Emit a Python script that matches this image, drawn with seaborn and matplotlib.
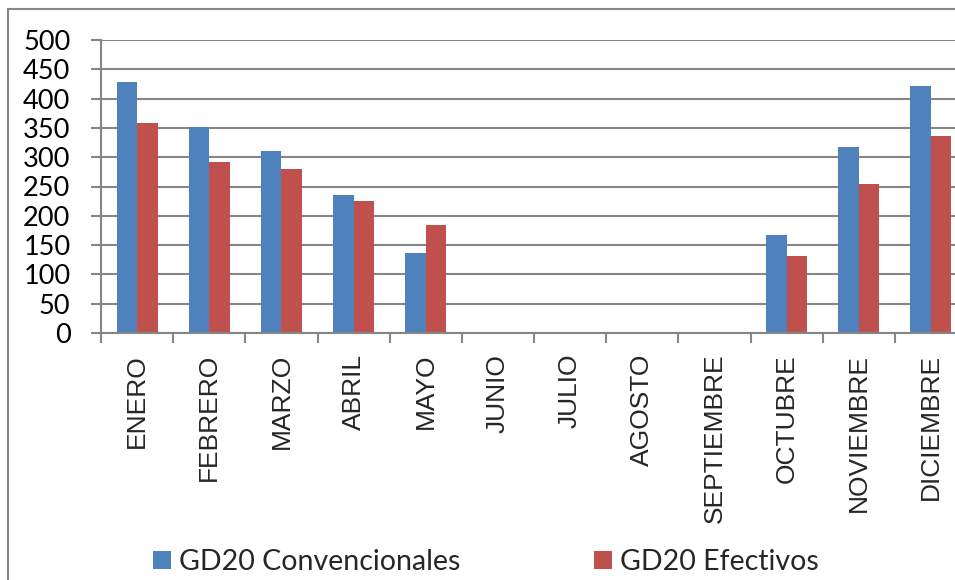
import matplotlib
matplotlib.use("Agg")
import matplotlib.pyplot as plt
import seaborn as sns
import pandas as pd
from matplotlib.patches import Patch, Rectangle

meses = ["ENERO", "FEBRERO", "MARZO", "ABRIL", "MAYO", "JUNIO", "JULIO",
         "AGOSTO", "SEPTIEMBRE", "OCTUBRE", "NOVIEMBRE", "DICIEMBRE"]
serie_nombres = ["GD20 Convencionales", "GD20 Efectivos"]
convencionales = [429, 351, 311, 235, 137, 0, 0, 0, 0, 168, 317, 421]
efectivos = [358, 292, 280, 225, 185, 0, 0, 0, 0, 132, 255, 337]
y_ticks = [0, 50, 100, 150, 200, 250, 300, 350, 400, 450, 500]
colores = ["#4F81BD", "#C0504D"]

df = pd.DataFrame({
    "mes": meses * 2,
    "valor": convencionales + efectivos,
    "serie": [serie_nombres[0]] * len(meses) + [serie_nombres[1]] * len(meses),
})

sns.set_style("white")
plt.rcParams["font.family"] = ["Lato", "DejaVu Sans"]

fig = plt.figure(figsize=(9.55, 5.8), dpi=100)
ax = fig.add_axes([101 / 955, 1 - 333 / 580, 866 / 955, 293 / 580])

sns.barplot(data=df, x="mes", y="valor", hue="serie", order=meses,
            hue_order=serie_nombres, palette=colores, width=0.57,
            linewidth=0, saturation=1, ax=ax, legend=False)

grid_c = "#868686"
ax.set_ylim(0, 500)
ax.set_xlim(-0.5, len(meses) - 0.5)
ax.set_yticks(y_ticks)
ax.set_yticklabels([str(v) for v in y_ticks], fontsize=19.5, color="black")
ax.yaxis.grid(True, color=grid_c, linewidth=1.5)
ax.set_axisbelow(True)
ax.set_xlabel("")
ax.set_ylabel("")
for s in ["top", "right"]:
    ax.spines[s].set_visible(False)
for s in ["left", "bottom"]:
    ax.spines[s].set_color(grid_c)
    ax.spines[s].set_linewidth(1.5)

ax.tick_params(axis="y", which="major", left=True, length=7, width=1.5,
               color=grid_c, pad=15)
ax.set_xticks(range(len(meses)))
ax.set_xticklabels(meses, rotation=90, fontsize=19,
                   family=["Liberation Sans", "DejaVu Sans"], va="top")
ax.tick_params(axis="x", which="major", length=0, pad=15)
ax.set_xticks([i - 0.5 for i in range(len(meses) + 1)], minor=True)
ax.tick_params(axis="x", which="minor", bottom=True, length=7, width=1.5,
               color=grid_c)

# chart-area border
fig.add_artist(Rectangle((8 / 955, -0.1), 2, 1.1 - 9 / 580,
                         transform=fig.transFigure, fill=False,
                         edgecolor=grid_c, linewidth=1.5))

handles = [Patch(facecolor=c, edgecolor="none") for c in colores]
fig.legend(handles, serie_nombres, loc="center left", ncol=2,
           bbox_to_anchor=(153 / 955, 1 - 562 / 580), frameon=False,
           handlelength=0.63, handleheight=0.63, handletextpad=0.28,
           columnspacing=4.7, borderaxespad=0, borderpad=0,
           prop={"family": ["Lato", "DejaVu Sans"], "size": 20.5})

fig.savefig("out.png", dpi=100)
